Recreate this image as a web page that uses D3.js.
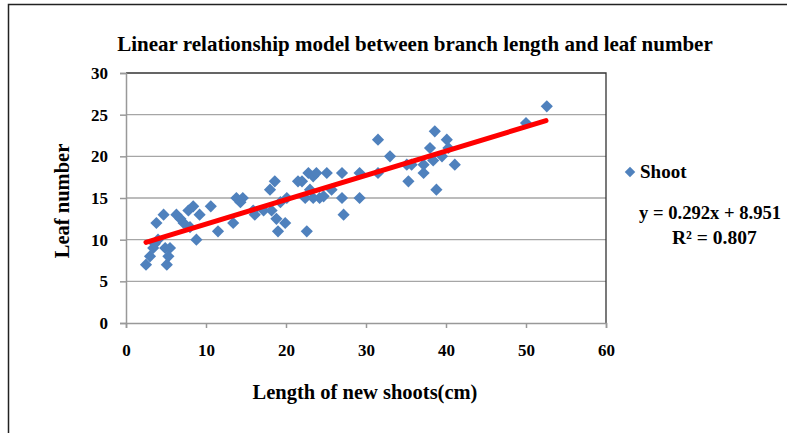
<!DOCTYPE html>
<html>
<head>
<meta charset="utf-8">
<script src="https://cdn.jsdelivr.net/npm/d3@7"></script>
<style>
  body { margin: 0; background: #fff; }
  text { font-family: "Liberation Serif", "Times New Roman", serif; font-weight: bold; fill: #000; }
</style>
</head>
<body>
<div id="chart"></div>
<script>
// shoot length (cm) and leaf number
var shootLength = [2.5, 3, 3.4, 3.6, 4, 3.8, 4.7, 4.9, 5.5, 5.1, 5.3, 6.3, 7.2, 7.8, 8.4, 8.8, 9.2, 10.6, 8, 6.8,
  11.5, 13.4, 13.8, 14.3, 14.6, 15.9, 16.1, 17.2, 18, 18.6, 18.2, 18.8, 19, 19.9, 20.1, 21.5, 19.3,
  22, 22.6, 22.8, 23, 23.4, 23.8, 22.4, 23.4, 24.2, 25.1, 24.7, 25.7, 27, 27, 27.2, 29.2, 29.2,
  31.5, 31.5, 33, 35.1, 35.3, 35.7, 37.2, 37.2, 38, 38.6, 38.8, 39.5, 40.1, 40.3, 41.1, 38.4,
  50, 52.6];
var leafNumber = [7, 8, 9, 9.5, 10, 12, 13, 9, 9, 7, 8, 13, 12, 13.5, 14, 10, 13, 14, 11.5, 12.5,
  11, 12, 15, 14.5, 15, 13.5, 13, 13.5, 16, 17, 13.5, 12.5, 11, 12, 15, 17, 14.5,
  17, 11, 18, 16, 17.6, 18, 15, 15, 15, 18, 15.2, 16, 18, 15, 13, 18, 15,
  22, 18, 20, 19, 17, 19, 18, 19, 21, 23, 16, 20, 22, 21, 19, 19.5,
  24, 26];
var xTicks = [0, 10, 20, 30, 40, 50, 60];
var yTicks = [0, 5, 10, 15, 20, 25, 30];
var slope = 0.292, intercept = 8.951;
var fitRange = [2.5, 52.5];

var W = 787, H = 433;
var svg = d3.select("#chart").append("svg").attr("width", W).attr("height", H);

// outer frame (cut at right/bottom)
svg.append("path").attr("d", "M8.5,433 L8.5,4.5 L787,4.5")
  .attr("fill", "none").attr("stroke", "#222").attr("stroke-width", 1.5);

var x = d3.scaleLinear().domain([0, 60]).range([126, 606]);
var y = d3.scaleLinear().domain([0, 30]).range([323, 73]);

// gridlines
svg.append("g").selectAll("line").data(yTicks.slice(1, -1)).enter().append("line")
  .attr("x1", 126).attr("x2", 606)
  .attr("y1", function(d){ return y(d); }).attr("y2", function(d){ return y(d); })
  .attr("stroke", "#a6a6a6").attr("stroke-width", 1.3);

// plot border top & right
svg.append("path").attr("d", "M126,73 L606,73 L606,323")
  .attr("fill", "none").attr("stroke", "#333").attr("stroke-width", 1.3);

var xAxis = svg.append("g").attr("transform", "translate(0,323)")
  .call(d3.axisBottom(x).tickValues(xTicks).tickSize(5).tickPadding(16));
var yAxis = svg.append("g").attr("transform", "translate(126,0)")
  .call(d3.axisLeft(y).tickValues(yTicks).tickSize(6).tickPadding(12));
[xAxis, yAxis].forEach(function(a){
  a.select(".domain").attr("stroke", "#999").attr("stroke-width", 1.5);
  a.selectAll(".tick line").attr("stroke", "#999").attr("stroke-width", 1.5);
  a.selectAll("text").attr("font-size", 17).attr("font-family", "Liberation Serif").attr("font-weight", "bold").attr("fill", "#000");
});

// points
var diamond = d3.symbol().type(d3.symbolSquare).size(74);
svg.append("g").selectAll("path").data(shootLength).enter().append("path")
  .attr("d", diamond)
  .attr("transform", function(d, i){ return "translate(" + x(d) + "," + y(leafNumber[i]) + ") rotate(45)"; })
  .attr("fill", "#4f81bd");

// fitted line
svg.append("line")
  .attr("x1", x(fitRange[0])).attr("y1", y(slope * fitRange[0] + intercept))
  .attr("x2", x(fitRange[1])).attr("y2", y(slope * fitRange[1] + intercept))
  .attr("stroke", "#ff0000").attr("stroke-width", 5).attr("stroke-linecap", "round");

// titles
svg.append("text").attr("x", 415).attr("y", 51).attr("text-anchor", "middle")
  .attr("font-size", 21).text("Linear relationship model between branch length and leaf number");
svg.append("text").attr("x", 365).attr("y", 399).attr("text-anchor", "middle")
  .attr("font-size", 20.5).text("Length of new shoots(cm)");
svg.append("text").attr("transform", "translate(69,201) rotate(-90)").attr("text-anchor", "middle")
  .attr("font-size", 20.5).text("Leaf number");

// legend
svg.append("path").attr("d", d3.symbol().type(d3.symbolSquare).size(55))
  .attr("transform", "translate(630,172) rotate(45)").attr("fill", "#4f81bd");
svg.append("text").attr("x", 640).attr("y", 178).attr("font-size", 19).text("Shoot");
svg.append("text").attr("x", 639).attr("y", 219).attr("font-size", 18.6).text("y = 0.292x + 8.951");
svg.append("text").attr("x", 672).attr("y", 244).attr("font-size", 19.5).text("R² = 0.807");
</script>
</body>
</html>
